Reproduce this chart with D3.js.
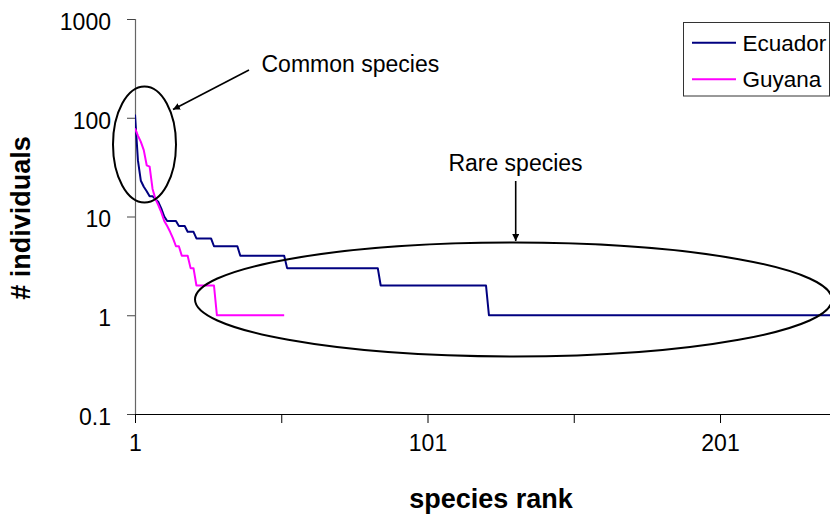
<!DOCTYPE html>
<html>
<head>
<meta charset="utf-8">
<script src="https://cdn.jsdelivr.net/npm/d3@7"></script>
<style>
  html, body { margin: 0; padding: 0; background: #fff; }
  svg { display: block; font-family: "Liberation Sans", Arial, sans-serif; }
</style>
</head>
<body>
<svg id="chart" width="830" height="517"></svg>
<script>
// Rank-abundance: number of individuals per species, species sorted by abundance
const ecuador = [
  108, 37, 23, 20, 18, 16, 16, 15, 14, 12,
  10, 9, 9, 9, 9, 8, 8, 8, 7, 7,
  7, 6, 6, 6, 6, 6, 6, 5, 5, 5,
  5, 5, 5, 5, 5, 5, 4, 4, 4, 4,
  4, 4, 4, 4, 4, 4, 4, 4, 4, 4,
  4, 4, 3, 3, 3, 3, 3, 3, 3, 3,
  3, 3, 3, 3, 3, 3, 3, 3, 3, 3,
  3, 3, 3, 3, 3, 3, 3, 3, 3, 3,
  3, 3, 3, 3, 2, 2, 2, 2, 2, 2,
  2, 2, 2, 2, 2, 2, 2, 2, 2, 2,
  2, 2, 2, 2, 2, 2, 2, 2, 2, 2,
  2, 2, 2, 2, 2, 2, 2, 2, 2, 2,
  2, 1, 1, 1, 1, 1, 1, 1, 1, 1,
  1, 1, 1, 1, 1, 1, 1, 1, 1, 1,
  1, 1, 1, 1, 1, 1, 1, 1, 1, 1,
  1, 1, 1, 1, 1, 1, 1, 1, 1, 1,
  1, 1, 1, 1, 1, 1, 1, 1, 1, 1,
  1, 1, 1, 1, 1, 1, 1, 1, 1, 1,
  1, 1, 1, 1, 1, 1, 1, 1, 1, 1,
  1, 1, 1, 1, 1, 1, 1, 1, 1, 1,
  1, 1, 1, 1, 1, 1, 1, 1, 1, 1,
  1, 1, 1, 1, 1, 1, 1, 1, 1, 1,
  1, 1, 1, 1, 1, 1, 1, 1, 1, 1,
  1, 1, 1, 1, 1, 1, 1, 1, 1
];
const guyana = [
  78, 66, 57, 47, 33, 32, 19, 15, 13, 11,
  9, 8, 7, 6, 5, 5, 4, 4, 4, 3,
  3, 2, 2, 2, 2, 2, 2, 2, 1, 1,
  1, 1, 1, 1, 1, 1, 1, 1, 1, 1,
  1, 1, 1, 1, 1, 1, 1, 1, 1, 1,
  1, 1
];
const seriesNames = ["Ecuador", "Guyana"];
const seriesColors = ["#000080", "#ff00ff"];
const yTicks = [0.1, 1, 10, 100, 1000];
const xTickMarks = [1, 51, 101, 151, 201];
const xTickLabels = [1, 101, 201];

const svg = d3.select("#chart");
const plotLeft = 135, plotRight = 830, plotTop = 19, plotBottom = 414;

const x = d3.scaleLinear().domain([1, 238.6]).range([plotLeft, plotRight]);
const y = d3.scaleLog().domain([0.1, 1000]).range([plotBottom, plotTop]);

const defs = svg.append("defs");
// clip for the plotted series
defs.append("clipPath").attr("id", "plot")
  .append("rect").attr("x", plotLeft).attr("y", 0).attr("width", plotRight - plotLeft).attr("height", plotBottom);

// y axis
const yAxis = d3.axisLeft(y).tickValues(yTicks).tickSize(8).tickPadding(16)
  .tickFormat(d => d < 1 ? d3.format(".1f")(d) : d3.format("d")(d));
const gy = svg.append("g").attr("transform", `translate(${plotLeft},0)`).call(yAxis);
gy.select(".domain").attr("stroke", "#666").attr("stroke-width", 1.2);
gy.selectAll(".tick line").attr("stroke", "#444");
gy.selectAll(".tick text").attr("font-size", 23).attr("fill", "#000")
  .attr("font-family", "Liberation Sans, Arial, sans-serif").attr("dy", "0.45em");

// x axis
const xAxis = d3.axisBottom(x).tickValues(xTickMarks).tickSize(9).tickPadding(12)
  .tickFormat(d => xTickLabels.includes(d) ? String(d) : "");
const gx = svg.append("g").attr("transform", `translate(0,${plotBottom})`).call(xAxis);
gx.select(".domain").attr("stroke", "#000").attr("d", `M${plotLeft},0.5H${plotRight}`);
gx.selectAll(".tick line").attr("stroke", "#000");
gx.selectAll(".tick text").attr("font-size", 23).attr("fill", "#000")
  .attr("font-family", "Liberation Sans, Arial, sans-serif");

// axis titles
svg.append("text").attr("x", 491).attr("y", 508).attr("text-anchor", "middle")
  .attr("font-size", 27).attr("font-weight", "bold").text("species rank");
svg.append("text").attr("transform", "translate(30,218) rotate(-90)").attr("text-anchor", "middle")
  .attr("font-size", 27).attr("font-weight", "bold").text("# individuals");

// series lines
const line = d3.line().x((d, i) => x(i + 1)).y(d => y(d));
const plot = svg.append("g").attr("clip-path", "url(#plot)");
[ecuador, guyana].forEach((vals, k) => {
  plot.append("path").datum(vals).attr("d", line)
    .attr("fill", "none").attr("stroke", seriesColors[k]).attr("stroke-width", 2)
    .attr("stroke-linejoin", "round");
});

// annotations
const ann = svg.append("g").attr("fill", "none").attr("stroke", "#000");
ann.append("ellipse").attr("cx", 144.5).attr("cy", 144.5).attr("rx", 31.5).attr("ry", 58).attr("stroke-width", 2);
ann.append("ellipse").attr("cx", 513.5).attr("cy", 299.5).attr("rx", 318.5).attr("ry", 57).attr("stroke-width", 2);

defs.append("marker").attr("id", "arrow").attr("viewBox", "0 0 10 10").attr("refX", 10).attr("refY", 5)
  .attr("markerWidth", 7).attr("markerHeight", 7).attr("markerUnits", "userSpaceOnUse").attr("orient", "auto")
  .append("path").attr("d", "M0,0L10,5L0,10Z").attr("fill", "#000").attr("stroke", "none");
ann.append("line").attr("x1", 249).attr("y1", 70).attr("x2", 173).attr("y2", 109.5)
  .attr("stroke-width", 1.6).attr("marker-end", "url(#arrow)");
ann.append("line").attr("x1", 515.7).attr("y1", 181).attr("x2", 515.7).attr("y2", 241)
  .attr("stroke-width", 1.6).attr("marker-end", "url(#arrow)");

svg.append("text").attr("x", 261.5).attr("y", 71.5).attr("font-size", 23).text("Common species");
svg.append("text").attr("x", 515.5).attr("y", 171).attr("text-anchor", "middle").attr("font-size", 23).text("Rare species");

// legend
const lg = svg.append("g");
lg.append("rect").attr("x", 683.5).attr("y", 22.5).attr("width", 146).attr("height", 73.5)
  .attr("fill", "#fff").attr("stroke", "#333").attr("stroke-width", 1);
seriesNames.forEach((name, k) => {
  const yy = 42.7 + k * 36.6;
  lg.append("line").attr("x1", 692).attr("x2", 736).attr("y1", yy).attr("y2", yy)
    .attr("stroke", seriesColors[k]).attr("stroke-width", 2);
  lg.append("text").attr("x", 742.5).attr("y", yy + 7.8).attr("font-size", 22.5).text(name);
});
</script>
</body>
</html>
